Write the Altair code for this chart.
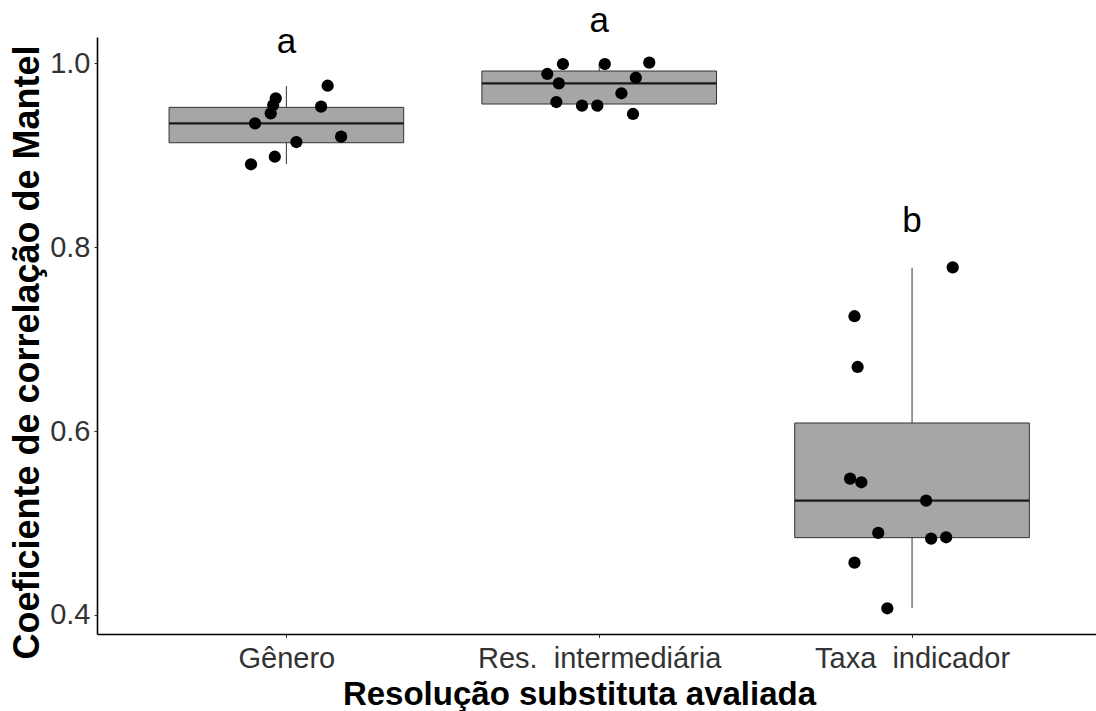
import altair as alt
import pandas as pd

# ---------------- data ----------------
groups = ["Gênero", "Res.\u00a0 intermediária", "Taxa\u00a0 indicador"]

genero_vals = [0.9756, 0.9619, 0.9546, 0.9456, 0.9528, 0.9347, 0.9202, 0.9144, 0.8984, 0.8902]
genero_jit = [0.132, -0.034, -0.042, -0.050, 0.111, -0.100, 0.175, 0.032, -0.037, -0.113]

res_vals = [0.9992, 0.9992, 1.0007, 0.9884, 0.9843, 0.9782, 0.9674, 0.9579, 0.9539, 0.9539, 0.9449]
res_jit = [-0.116, 0.018, 0.160, -0.166, 0.117, -0.129, 0.071, -0.137, -0.055, -0.006, 0.108]

taxa_vals = [0.7781, 0.7249, 0.6697, 0.5482, 0.5443, 0.5243, 0.4892, 0.4830, 0.4845, 0.4569, 0.4073]
taxa_jit = [0.130, -0.184, -0.174, -0.198, -0.162, 0.045, -0.108, 0.061, 0.109, -0.184, -0.079]

whisk_lo = [0.8905, 0.9474, 0.4074]
q1 = [0.9136, 0.9557, 0.4841]
median = [0.9347, 0.9782, 0.5243]
q3 = [0.9521, 0.9916, 0.6088]
whisk_hi = [0.9753, 1.0000, 0.7777]

letters = ["a", "a", "b"]
letter_y = [1.0109, 1.0344, 0.8169]

y_ticks = [0.4, 0.6, 0.8, 1.0]

# ---------------- tables ----------------
BOX_W = 0.75
positions = [1, 2, 3]

box_df = pd.DataFrame({
    "pos": positions,
    "left": [p - BOX_W / 2 for p in positions],
    "right": [p + BOX_W / 2 for p in positions],
    "lo": whisk_lo, "q1": q1, "med": median, "q3": q3, "hi": whisk_hi,
})

pts_rows = []
for p, vals, jit in zip(positions, [genero_vals, res_vals, taxa_vals], [genero_jit, res_jit, taxa_jit]):
    for v, j in zip(vals, jit):
        pts_rows.append({"x": p + j, "value": v})
pts_df = pd.DataFrame(pts_rows)

txt_df = pd.DataFrame({"pos": positions, "y": letter_y, "letter": letters})

# ---------------- scales / axes ----------------
FONT = "Liberation Sans"
xs = alt.Scale(domain=[0.3947, 3.588], nice=False, zero=False)
ys = alt.Scale(domain=[0.3793, 1.0286], nice=False, zero=False)

label_expr = " : ".join(
    f"datum.value == {p} ? '{g}'" for p, g in zip(positions[:-1], groups[:-1])
) + f" : '{groups[-1]}'"

x_axis = alt.Axis(
    values=positions, labelExpr=label_expr, grid=False, labelLimit=500,
    labelFont=FONT, labelFontSize=29, labelColor="#333333",
    labelBaseline="alphabetic", labelPadding=30, labelAngle=0,
    tickSize=3.5, tickColor="#333333", tickWidth=1,
    domainColor="#000000", domainWidth=1.6,
    title="Resolução substituta avaliada", titleFont=FONT, titleFontSize=33,
    titleFontWeight="bold", titleColor="#000000", titleLimit=1000,
    titleX=482, titleY=70, titleBaseline="alphabetic", titleAlign="center",
)
y_axis = alt.Axis(
    values=y_ticks, format=".1f", grid=False,
    labelFont=FONT, labelFontSize=29, labelColor="#333333", labelPadding=4,
    tickSize=3, tickColor="#333333", tickWidth=1,
    domainColor="#000000", domainWidth=1.6,
    title="Coeficiente de correlação de Mantel", titleFont=FONT, titleFontSize=36,
    titleFontWeight="bold", titleColor="#000000", titleAngle=270, titleLimit=1000,
    titleX=-59, titleY=315, titleBaseline="alphabetic", titleAlign="center",
)

whisk = alt.Chart(box_df).mark_rule(color="#333333", strokeWidth=1).encode(
    x=alt.X("pos:Q", scale=xs, axis=x_axis),
    y=alt.Y("lo:Q", scale=ys, axis=y_axis),
    y2="hi:Q",
)
box = alt.Chart(box_df).mark_rect(fill="#A6A6A6", stroke="#333333", strokeWidth=1).encode(
    x=alt.X("left:Q", scale=xs, axis=x_axis),
    x2="right:Q",
    y=alt.Y("q1:Q", scale=ys, axis=y_axis),
    y2="q3:Q",
)
med = alt.Chart(box_df).mark_rule(color="#1a1a1a", strokeWidth=2.2).encode(
    x=alt.X("left:Q", scale=xs, axis=x_axis),
    x2="right:Q",
    y=alt.Y("med:Q", scale=ys, axis=y_axis),
)
pts = alt.Chart(pts_df).mark_circle(color="#000000", opacity=1, size=150).encode(
    x=alt.X("x:Q", scale=xs, axis=x_axis),
    y=alt.Y("value:Q", scale=ys, axis=y_axis),
)
txt = alt.Chart(txt_df).mark_text(
    font=FONT, fontSize=35, color="#000000", baseline="alphabetic", align="center"
).encode(
    x=alt.X("pos:Q", scale=xs, axis=x_axis),
    y=alt.Y("y:Q", scale=ys, axis=y_axis),
    text="letter:N",
)

chart = alt.layer(whisk, box, med, pts, txt).properties(
    width=999, height=597,
    padding={"left": 97, "top": 37, "right": 0, "bottom": 77},
    autosize=alt.AutoSizeParams(type="none"),
    background="#ffffff",
).configure_view(strokeWidth=0)

chart.save("out.html", embed_options={"renderer": "svg", "actions": False})
